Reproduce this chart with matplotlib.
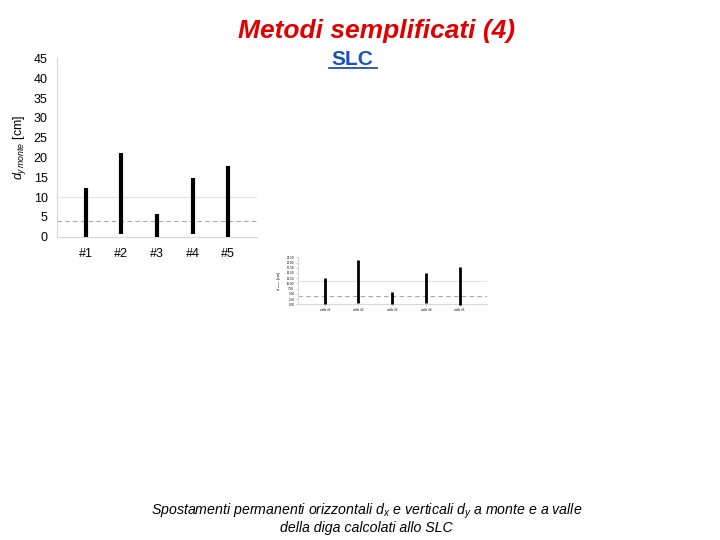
import numpy as np
import matplotlib
matplotlib.use('Agg')
from matplotlib import pyplot as plt
from matplotlib.lines import Line2D

plt.rcParams['font.family'] = ['Liberation Sans', 'DejaVu Sans']
plt.rcParams['mathtext.fontset'] = 'custom'
plt.rcParams['mathtext.rm'] = 'Liberation Sans'
plt.rcParams['mathtext.it'] = 'Liberation Sans:italic'

# data (cm)
sezioni = ['#1', '#2', '#3', '#4', '#5']
d_min = [0.0, 0.7, 0.0, 0.8, -0.2]
d_max = [12.4, 21.2, 5.8, 14.8, 17.8]
soglia = 4.0        # dashed line
rif = 10.0          # light solid line
yticks = [0, 5, 10, 15, 20, 25, 30, 35, 40, 45]

# small copy of the same chart (its own scale)
sezioni_small = ['valle #1', 'valle #2', 'valle #3', 'valle #4', 'valle #5']
yticks_small = [0, 2.5, 5, 7.5, 10, 12.5, 15, 17.5, 20, 22.5]
soglia_small = 3.85
rif_small = 11.15

fig = plt.figure(figsize=(7.2, 5.4), dpi=100)

def draw(ax, labels, lo, hi, s, r, ticks, lw, fs, tick_len, fmt):
    x = np.arange(1, len(labels) + 1)
    ax.vlines(x, lo, hi, color='black', linewidth=lw, zorder=3, clip_on=False)
    ax.axhline(s, color='#a8a8a8', linestyle=(0, (4, 3)), linewidth=0.8, zorder=2)
    ax.axhline(r, color='#e2e2e2', linewidth=0.8, zorder=1)
    ax.set_xlim(0.2, len(labels) + 0.8)
    ax.set_ylim(ticks[0], ticks[-1])
    ax.set_yticks(ticks)
    ax.set_yticklabels([fmt % t for t in ticks], fontsize=fs)
    ax.set_xticks(x)
    ax.set_xticklabels(labels, fontsize=fs)
    for side in ['top', 'right']:
        ax.spines[side].set_visible(False)
    for side in ['left', 'bottom']:
        ax.spines[side].set_color('#d8d8d8')
        ax.spines[side].set_linewidth(0.8)
    ax.tick_params(axis='both', length=tick_len, color='#d0d0d0', colors='black')

ax = fig.add_axes([0.0796, 0.5617, 0.277, 0.330])
draw(ax, sezioni, d_min, d_max, soglia, rif, yticks, 3.0, 9, 0, '%g')
ax.tick_params(axis='y', pad=7)
ax.tick_params(axis='x', pad=8)
ax.set_ylabel(r'$d_{y\,monte}$ [cm]', fontsize=9, labelpad=4)

ax2 = fig.add_axes([0.4135, 0.4365, 0.2625, 0.087])
draw(ax2, sezioni_small, d_min, d_max, soglia_small, rif_small, yticks_small,
     2.0, 2.2, 1.5, '%.2f')
ax2.tick_params(axis='both', pad=1)
ax2.set_ylabel(r'$d_{y\,monte}$ [cm]', fontsize=2.5, labelpad=3)

fig.text(0.523, 0.929, 'Metodi semplificati (4)', color='#e00000',
         fontsize=19, style='italic', weight='bold', ha='center', va='baseline')
fig.text(0.490, 0.8796, 'SLC', color='#1a4fc0', fontsize=15, weight='bold',
         ha='center', va='baseline')
fig.add_artist(Line2D([329 / 720, 377 / 720], [1 - 67.5 / 540, 1 - 67.5 / 540],
                      color='#1a4fc0', linewidth=1.3))

fig.text(0.509, 1 - 515 / 540,
         r'Spostamenti permanenti orizzontali $d_x$ e verticali $d_y$ a monte e a valle',
         fontsize=10.2, style='italic', ha='center', va='baseline')
fig.text(0.509, 1 - 532 / 540, 'della diga calcolati allo SLC',
         fontsize=10.2, style='italic', ha='center', va='baseline')

fig.savefig('out.png', dpi=100)
